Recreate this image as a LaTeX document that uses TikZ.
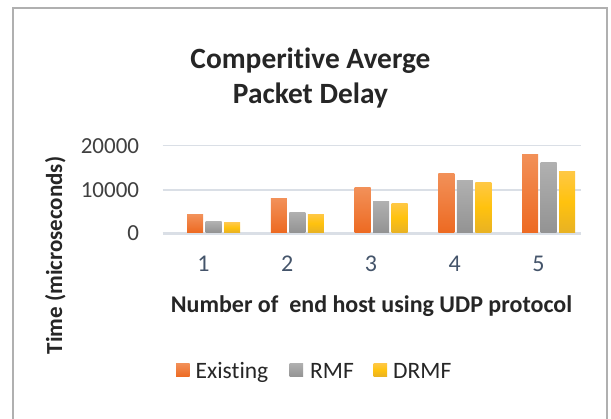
\documentclass[tikz,border=0pt]{standalone}
\usepackage{fontspec}
\setmainfont[Ligatures=NoCommon]{Carlito}
\definecolor{gridc}{HTML}{DADFE6}
\definecolor{framec}{HTML}{B0B0B0}
\definecolor{txt}{HTML}{262626}
\definecolor{tick}{HTML}{404040}
\definecolor{cat}{HTML}{44546A}
\definecolor{orT}{HTML}{F29058}
\definecolor{orB}{HTML}{ED6A22}
\definecolor{grT}{HTML}{B0B0B0}
\definecolor{grB}{HTML}{939393}
\definecolor{yeT}{HTML}{FFC845}
\definecolor{yeB}{HTML}{E8B224}
\definecolor{yeM}{HTML}{FFC20E}
\tikzset{
  ex/.style={top color=orT, bottom color=orB},
  rm/.style={top color=grT, bottom color=grB},
  dr/.style={top color=yeT, bottom color=yeB, middle color=yeM},
  grid/.style={draw=gridc, line width=1.6pt},
  ticklbl/.style={font=\fontsize{23}{28}\selectfont, text=tick, inner sep=0pt},
  catlbl/.style={font=\fontsize{24}{28}\selectfont, text=cat, inner sep=0pt},
  legtxt/.style={font=\fontsize{23.5}{28}\selectfont, text=txt, inner sep=0pt, anchor=base west},
  axtitle/.style={font=\fontsize{24}{28}\selectfont\bfseries, text=txt, inner sep=0pt, anchor=base},
  ttl/.style={font=\fontsize{29.4}{35}\selectfont\bfseries, text=txt, inner sep=0pt, anchor=base},
}
\begin{document}
\begin{tikzpicture}[x=1pt,y=1pt]
\useasboundingbox (0,0) rectangle (611,419);
\fill[white] (0,0) rectangle (611,419);
\draw[framec, line width=1.2pt] (13,-6) -- (13,411) -- (607,411) -- (607,-6);
% title
\node[ttl] (title1) at (310.5,350.7) {Comperitive Averge};
\node[ttl] (title2) at (310.5,315.7) {Packet Delay};
% gridlines
\draw[grid] (162.7,273.3) -- (580.7,273.3);
\draw[grid] (162.7,229) -- (580.7,229);
\draw[grid, line width=2.4pt] (162.7,185.5) -- (580.7,185.5);
% y ticks
\node[ticklbl, anchor=east] (t2) at (139.3,273) {20000};
\node[ticklbl, anchor=east] (t1) at (139.3,229) {10000};
\node[ticklbl, anchor=east] (t0) at (139.3,185.5) {0};
% bars
\foreach \g/\a/\b/\c in {0/4.20/2.60/2.35, 1/7.85/4.85/4.40, 2/10.35/7.15/6.90, 3/13.55/11.95/11.70, 4/18.10/16.05/14.20}{
  \path[ex] ({187+83.75*\g},186.7) rectangle ({203+83.75*\g},{185.7+\a*4.38});
  \path[rm] ({205.5+83.75*\g},186.7) rectangle ({221.5+83.75*\g},{185.7+\b*4.38});
  \path[dr] ({224+83.75*\g},186.7) rectangle ({240+83.75*\g},{185.7+\c*4.38});
}
% categories
\node[catlbl, anchor=base] (c1) at (203.5,147) {1};
\node[catlbl, anchor=base] (c2) at (287.25,147) {2};
\node[catlbl, anchor=base] (c3) at (371,147) {3};
\node[catlbl, anchor=base] (c4) at (454.75,147) {4};
\node[catlbl, anchor=base] (c5) at (538.5,147) {5};
% axis titles
\node[axtitle] (xl) at (371.5,106) {Number of\ \ end host using UDP protocol};
\node[axtitle, font=\fontsize{23}{28}\selectfont\bfseries, rotate=90] (yl) at (62,163.5) {Time (microseconds)};
% legend
\path[ex] (176,55.7) rectangle (189.5,42.3);
\node[legtxt] (l1) at (195.5,40) {Existing};
\path[rm] (289.5,55.7) rectangle (303,42.3);
\node[legtxt] (l2) at (310,40) {RMF};
\path[dr] (373.5,55.7) rectangle (387,42.3);
\node[legtxt] (l3) at (393,40) {DRMF};
\end{tikzpicture}
\end{document}
